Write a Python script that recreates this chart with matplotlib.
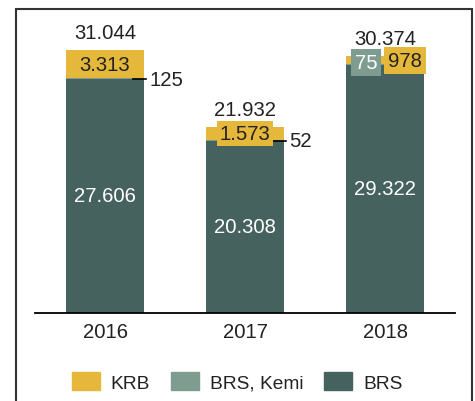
import numpy as np
import matplotlib.pyplot as plt
from matplotlib.patches import Rectangle, Patch

plt.rcParams['font.family'] = ['Liberation Sans', 'DejaVu Sans']

# Data (thousands, Danish number format in labels)
years = ['2016', '2017', '2018']
brs = np.array([27606, 20308, 29322])
brs_kemi = np.array([125, 52, 75])
krb = np.array([3313, 1573, 978])
totals = [31044, 21932, 30374]

dark = '#45625e'
light = '#7f9c90'
gold = '#e5b73b'
txt = '#222222'
fs = 14.6


def fmt(v):
    return f"{v / 1000:.3f}" if v >= 1000 else str(v)


fig = plt.figure(figsize=(4.75, 4.02), dpi=100)
# outer frame around the whole chart
fig.patches.append(Rectangle((16 / 475, -0.05), 456 / 475, 392 / 402 + 0.05,
                             transform=fig.transFigure, fill=False,
                             edgecolor='#333333', linewidth=1.5))

ax = fig.add_axes([35 / 475, 88.5 / 402, 420 / 475, 312 / 402])
x = np.arange(len(years))
w = 0.555

ax.bar(x, brs, w, color=dark)
ax.bar(x, brs_kemi, w, bottom=brs, color=light)
ax.bar(x, krb, w, bottom=brs + brs_kemi, color=gold)

ax.set_xlim(-0.5, 2.5)
ax.set_ylim(0, 36900)
ax.set_yticks([])
ax.set_xticks(x)
ax.set_xticklabels(years, fontsize=fs, color=txt)
ax.tick_params(axis='x', length=0, pad=7)
for s in ['top', 'left', 'right']:
    ax.spines[s].set_visible(False)
ax.spines['bottom'].set_color('black')
ax.spines['bottom'].set_linewidth(1.3)

tops = brs + brs_kemi + krb
for i in range(len(years)):
    # BRS value inside bar
    ax.text(x[i], brs[i] / 2, fmt(brs[i]), color='white', fontsize=fs,
            ha='center', va='center')
    # total above bar
    ax.annotate(fmt(totals[i]), (x[i], tops[i]), xytext=(0, 12.5),
                textcoords='offset points', ha='center', va='center',
                fontsize=fs, color=txt)
    if krb[i] > 1200:
        ax.annotate(fmt(krb[i]), (x[i], brs[i] + brs_kemi[i] + krb[i] / 2),
                    ha='center', va='center', fontsize=fs, color=txt,
                    bbox=dict(boxstyle='square,pad=0.15', fc=gold, ec='none'))
        # small kemi label to the right with a dash
        edge = x[i] + w / 2
        ax.plot([edge - 0.078, edge + 0.014], [brs[i], brs[i]],
                color='black', linewidth=1.2)
        ax.text(edge + 0.04, brs[i], fmt(brs_kemi[i]), ha='left', va='center',
                fontsize=fs, color=txt)
    else:
        ax.annotate(fmt(krb[i]), (x[i], tops[i]), xytext=(14.4, -3.6),
                    textcoords='offset points', ha='center', va='center',
                    fontsize=fs, color=txt,
                    bbox=dict(boxstyle='square,pad=0.2', fc=gold, ec='none'))
        ax.annotate(fmt(brs_kemi[i]), (x[i], tops[i]), xytext=(-13.7, -5),
                    textcoords='offset points', ha='center', va='center',
                    fontsize=fs, color='white',
                    bbox=dict(boxstyle='square,pad=0.2', fc=light, ec='none'))

handles = [Patch(color=gold), Patch(color=light), Patch(color=dark)]
fig.legend(handles, ['KRB', 'BRS, Kemi', 'BRS'], loc='center',
           bbox_to_anchor=(0.499, 0.047), ncol=3, frameon=False, fontsize=13.8,
           handlelength=1.45, handleheight=1.05, handletextpad=0.57,
           columnspacing=1.1, labelcolor=txt)

fig.savefig('out.png', dpi=100)
